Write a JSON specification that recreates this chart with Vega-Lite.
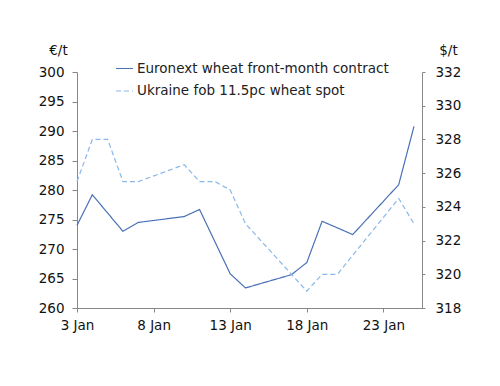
{
  "$schema": "https://vega.github.io/schema/vega-lite/v6.json",
  "width": 345,
  "height": 236,
  "autosize": {"type": "none"},
  "padding": {"left": 77, "top": 72, "right": 78, "bottom": 78},
  "background": "white",
  "config": {
    "view": {"stroke": null},
    "font": "DejaVu Sans",
    "axis": {
      "labelFont": "DejaVu Sans",
      "labelFontSize": 13.5,
      "labelColor": "#111111",
      "titleFont": "DejaVu Sans",
      "titleFontSize": 13.5,
      "titleFontWeight": "normal",
      "titleColor": "#111111",
      "domainColor": "#888888",
      "tickColor": "#888888",
      "grid": false
    },
    "legend": {
      "labelFont": "DejaVu Sans",
      "labelFontSize": 13.5,
      "labelColor": "#222222",
      "labelLimit": 400
    }
  },
  "datasets": {
    "euronext": [
      {"date": "2022-01-03", "value": 274.0, "series": "Euronext wheat front-month contract"},
      {"date": "2022-01-04", "value": 279.2, "series": "Euronext wheat front-month contract"},
      {"date": "2022-01-06", "value": 273.0, "series": "Euronext wheat front-month contract"},
      {"date": "2022-01-07", "value": 274.5, "series": "Euronext wheat front-month contract"},
      {"date": "2022-01-10", "value": 275.5, "series": "Euronext wheat front-month contract"},
      {"date": "2022-01-11", "value": 276.7, "series": "Euronext wheat front-month contract"},
      {"date": "2022-01-13", "value": 265.8, "series": "Euronext wheat front-month contract"},
      {"date": "2022-01-14", "value": 263.4, "series": "Euronext wheat front-month contract"},
      {"date": "2022-01-17", "value": 265.65, "series": "Euronext wheat front-month contract"},
      {"date": "2022-01-18", "value": 267.7, "series": "Euronext wheat front-month contract"},
      {"date": "2022-01-19", "value": 274.7, "series": "Euronext wheat front-month contract"},
      {"date": "2022-01-21", "value": 272.45, "series": "Euronext wheat front-month contract"},
      {"date": "2022-01-24", "value": 280.9, "series": "Euronext wheat front-month contract"},
      {"date": "2022-01-25", "value": 290.8, "series": "Euronext wheat front-month contract"}
    ],
    "ukraine": [
      {"date": "2022-01-03", "value": 325.5, "series": "Ukraine fob 11.5pc wheat spot"},
      {"date": "2022-01-04", "value": 328.0, "series": "Ukraine fob 11.5pc wheat spot"},
      {"date": "2022-01-05", "value": 328.0, "series": "Ukraine fob 11.5pc wheat spot"},
      {"date": "2022-01-06", "value": 325.5, "series": "Ukraine fob 11.5pc wheat spot"},
      {"date": "2022-01-07", "value": 325.5, "series": "Ukraine fob 11.5pc wheat spot"},
      {"date": "2022-01-10", "value": 326.5, "series": "Ukraine fob 11.5pc wheat spot"},
      {"date": "2022-01-11", "value": 325.5, "series": "Ukraine fob 11.5pc wheat spot"},
      {"date": "2022-01-12", "value": 325.5, "series": "Ukraine fob 11.5pc wheat spot"},
      {"date": "2022-01-13", "value": 325.0, "series": "Ukraine fob 11.5pc wheat spot"},
      {"date": "2022-01-14", "value": 323.0, "series": "Ukraine fob 11.5pc wheat spot"},
      {"date": "2022-01-18", "value": 319.0, "series": "Ukraine fob 11.5pc wheat spot"},
      {"date": "2022-01-19", "value": 320.0, "series": "Ukraine fob 11.5pc wheat spot"},
      {"date": "2022-01-20", "value": 320.0, "series": "Ukraine fob 11.5pc wheat spot"},
      {"date": "2022-01-24", "value": 324.5, "series": "Ukraine fob 11.5pc wheat spot"},
      {"date": "2022-01-25", "value": 323.0, "series": "Ukraine fob 11.5pc wheat spot"}
    ]
  },
  "layer": [
    {
      "data": {"name": "euronext"},
      "mark": {"type": "line", "strokeWidth": 1.2},
      "encoding": {
        "x": {
          "field": "date",
          "type": "temporal",
          "scale": {
            "type": "utc",
            "domain": [
              {"year": 2022, "month": 1, "date": 3, "utc": true},
              {"year": 2022, "month": 1, "date": 25, "hours": 12, "minutes": 30, "utc": true}
            ]
          },
          "axis": {
            "title": null,
            "values": [
              {"year": 2022, "month": 1, "date": 3, "utc": true},
              {"year": 2022, "month": 1, "date": 8, "utc": true},
              {"year": 2022, "month": 1, "date": 13, "utc": true},
              {"year": 2022, "month": 1, "date": 18, "utc": true},
              {"year": 2022, "month": 1, "date": 23, "utc": true}
            ],
            "labelExpr": "utcFormat(datum.value, '%-d %b')",
            "tickSize": 4,
            "labelPadding": 6,
            "labelFlush": false,
            "labelOverlap": false
          }
        },
        "y": {
          "field": "value",
          "type": "quantitative",
          "scale": {"domain": [260, 300], "nice": false, "zero": false},
          "axis": {
            "orient": "left",
            "title": "€/t",
            "titleAngle": 0,
            "titleAlign": "center",
            "titleBaseline": "alphabetic",
            "titleX": -19,
            "titleY": -18,
            "values": [260, 265, 270, 275, 280, 285, 290, 295, 300],
            "tickSize": 5,
            "labelPadding": 8
          }
        },
        "color": {
          "field": "series",
          "type": "nominal",
          "scale": {
            "domain": ["Euronext wheat front-month contract", "Ukraine fob 11.5pc wheat spot"],
            "range": ["#4a70b5", "#8ab8e8"]
          },
          "legend": {
            "title": null,
            "orient": "none",
            "legendX": 38,
            "legendY": -13,
            "symbolType": "stroke",
            "symbolSize": 289,
            "symbolStrokeWidth": 1.2,
            "labelOffset": 3,
            "rowPadding": 6.5
          }
        },
        "strokeDash": {
          "field": "series",
          "type": "nominal",
          "scale": {
            "domain": ["Euronext wheat front-month contract", "Ukraine fob 11.5pc wheat spot"],
            "range": [[1, 0], [5, 3]]
          },
          "legend": {
            "title": null,
            "orient": "none",
            "legendX": 38,
            "legendY": -13,
            "symbolType": "stroke",
            "symbolSize": 289,
            "symbolStrokeWidth": 1.2,
            "labelOffset": 3,
            "rowPadding": 6.5
          }
        }
      }
    },
    {
      "data": {"name": "ukraine"},
      "mark": {"type": "line", "strokeWidth": 1.2},
      "encoding": {
        "x": {"field": "date", "type": "temporal"},
        "y": {
          "field": "value",
          "type": "quantitative",
          "scale": {"domain": [318, 332], "nice": false, "zero": false},
          "axis": {
            "orient": "right",
            "title": "$/t",
            "titleAngle": 0,
            "titleAlign": "center",
            "titleBaseline": "alphabetic",
            "titleX": 26,
            "titleY": -18,
            "values": [318, 320, 322, 324, 326, 328, 330, 332],
            "tickSize": 3,
            "labelPadding": 10
          }
        },
        "color": {"field": "series", "type": "nominal"},
        "strokeDash": {"field": "series", "type": "nominal"}
      }
    }
  ],
  "resolve": {"scale": {"y": "independent"}}
}
